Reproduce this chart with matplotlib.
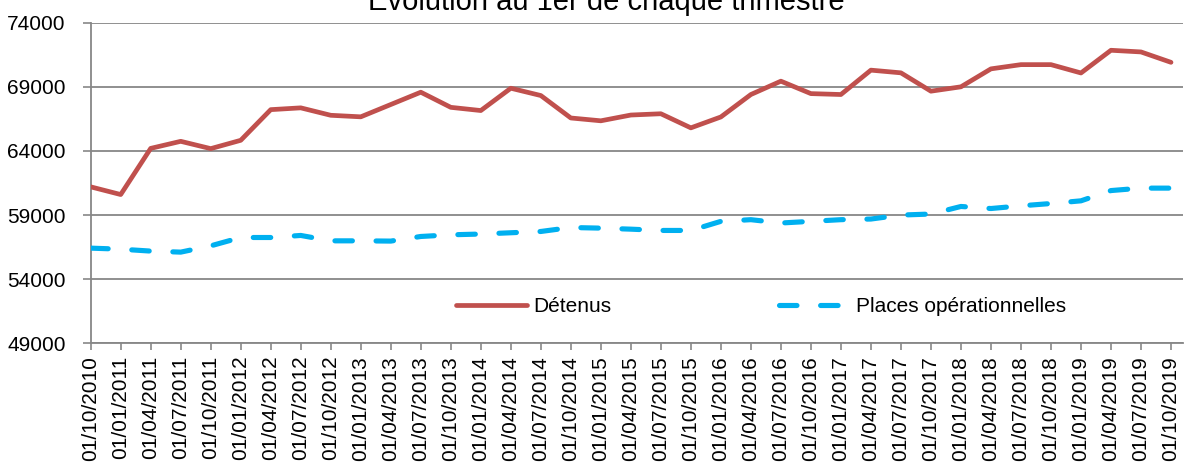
import matplotlib
matplotlib.use("Agg")
import matplotlib.pyplot as plt
from matplotlib.lines import Line2D

plt.rcParams['font.family'] = ['Liberation Sans', 'DejaVu Sans']

dates = ["01/10/2010", "01/01/2011", "01/04/2011", "01/07/2011", "01/10/2011",
         "01/01/2012", "01/04/2012", "01/07/2012", "01/10/2012",
         "01/01/2013", "01/04/2013", "01/07/2013", "01/10/2013",
         "01/01/2014", "01/04/2014", "01/07/2014", "01/10/2014",
         "01/01/2015", "01/04/2015", "01/07/2015", "01/10/2015",
         "01/01/2016", "01/04/2016", "01/07/2016", "01/10/2016",
         "01/01/2017", "01/04/2017", "01/07/2017", "01/10/2017",
         "01/01/2018", "01/04/2018", "01/07/2018", "01/10/2018",
         "01/01/2019", "01/04/2019", "01/07/2019", "01/10/2019"]

detenus = [61200, 60600, 64200, 64750, 64180, 64830, 67220, 67360, 66780,
           66660, 67620, 68580, 67400, 67150, 68890, 68320, 66570,
           66350, 66800, 66900, 65800, 66650, 68400, 69440, 68470,
           68400, 70300, 70090, 68660, 69000, 70400, 70730, 70730,
           70080, 71850, 71720, 70910]

places = [56420, 56340, 56190, 56110, 56600, 57250, 57250, 57410, 56990,
          56990, 56970, 57330, 57460, 57520, 57620, 57720, 58030,
          57980, 57900, 57800, 57800, 58510, 58640, 58380, 58510,
          58640, 58690, 59000, 59080, 59670, 59510, 59720, 59900,
          60110, 60910, 61100, 61100]

yticks = [49000, 54000, 59000, 64000, 69000, 74000]

W, H = 1186, 463
fig = plt.figure(figsize=(W / 100, H / 100), dpi=100)
ax = fig.add_axes([90.7 / W, 1 - 343.3 / H, (1183 - 90.7) / W, (343.3 - 22.7) / H])

x = list(range(len(dates)))
red = '#C0504D'
blue = '#00B0F0'
grid = '#878787'

ax.plot(x, detenus, color=red, lw=3.4, solid_capstyle='round', solid_joinstyle='round', zorder=3)
ax.plot(x, places, color=blue, lw=3.7, dash_capstyle='round', dashes=(3.4, 4.6), zorder=3)

ax.set_xlim(0, 36.4)
ax.set_ylim(49000, 74000)
ax.set_yticks(yticks)
ax.set_yticklabels([str(v) for v in yticks])
ax.set_xticks(x)
ax.set_xticklabels(dates, rotation=90, va='top', ha='center')

ax.grid(axis='y', color=grid, lw=1.3)
ax.set_axisbelow(True)
for s in ['top', 'right']:
    ax.spines[s].set_visible(False)
for s in ['left', 'bottom']:
    ax.spines[s].set_color(grid)
    ax.spines[s].set_linewidth(1.3)

ax.tick_params(axis='y', length=6, width=1.2, color=grid, labelsize=15, pad=12)
ax.tick_params(axis='x', length=5, width=1.2, color=grid, labelsize=15, pad=4)

fig.text(606 / W, 1 - 9.5 / H, "Évolution au 1er de chaque trimestre", fontsize=21,
         ha='center', va='baseline')

handles = [Line2D([], [], color=red, lw=3.4, solid_capstyle='round'),
           Line2D([], [], color=blue, lw=3.7, dash_capstyle='round', dashes=(3.4, 4.6))]
leg = fig.legend(handles, ["Détenus", "Places opérationnelles"], ncol=2, frameon=False,
                 loc='center left', bbox_to_anchor=(456 / W, 1 - 307 / H),
                 borderpad=0, borderaxespad=0, handlelength=3.4, handletextpad=0.3,
                 columnspacing=8.05, fontsize=15)

fig.savefig("out.png", dpi=100)
